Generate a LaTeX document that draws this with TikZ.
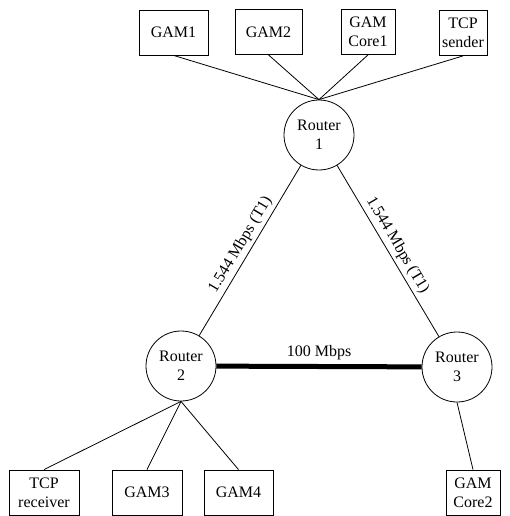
\documentclass[tikz,border=0pt]{standalone}
\usepackage{fontspec}
\setmainfont{Liberation Serif}
\usepackage{tikz}

\tikzset{
  host/.style={draw, line width=0.8pt, minimum height=45pt, inner sep=1pt, align=center},
  router/.style={draw, circle, line width=0.8pt, minimum size=70pt, inner sep=0pt, align=center},
  link/.style={line width=0.8pt}
}

\begin{document}
\begin{tikzpicture}[x=1pt,y=1pt,font=\fontsize{16}{19}\selectfont]
\useasboundingbox (0,0) rectangle (510,-516);
% hosts on router 1
\node[host, minimum width=69pt] (gam1) at (173.5,-32.5) {GAM1};
\node[host, minimum width=67pt] (gam2) at (268.5,-32) {GAM2};
\node[host, minimum width=54pt] (core1) at (368,-32) {GAM\\Core1};
\node[host, minimum width=48pt] (tcps) at (463,-33) {TCP\\sender};
% routers
\node[router] (r1) at (319,-135) {Router\\1};
\node[router] (r2) at (181,-366) {Router\\2};
\node[router] (r3) at (457,-367) {Router\\3};
% hosts on routers 2 and 3
\node[host, minimum width=70pt] (tcpr) at (44,-492.5) {TCP\\receiver};
\node[host, minimum width=70pt] (gam3) at (147,-492.5) {GAM3};
\node[host, minimum width=69pt] (gam4) at (238.5,-492.5) {GAM4};
\node[host, minimum width=54pt] (core2) at (473,-492.5) {GAM\\Core2};

\foreach \h in {gam1,gam2,core1,tcps}
  \draw[link] (\h.south) -- (r1.north);
\foreach \h in {tcpr,gam3,gam4}
  \draw[link] (r2.south) -- (\h.north);
\draw[link] (r3.south) -- (core2.north);

\draw[link] (r2) -- node[sloped, above] {1.544 Mbps (T1)} (r1);
\draw[link] (r1) -- node[sloped, above] {1.544 Mbps (T1)} (r3);
\draw[line width=5pt] (r2) -- node[above, yshift=1pt] {100 Mbps} (r3);
\end{tikzpicture}
\end{document}
